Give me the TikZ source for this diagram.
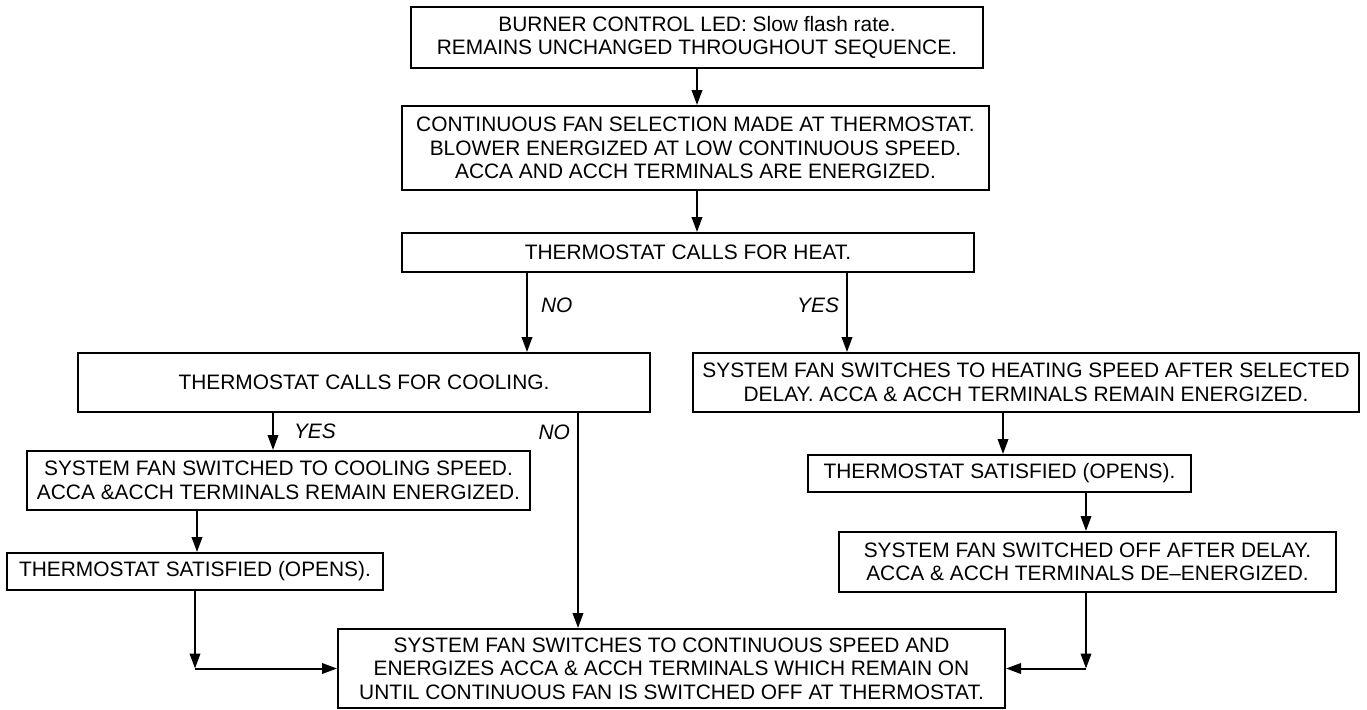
\documentclass[tikz,border=0pt]{standalone}
\usepackage{fontspec}
\setmainfont{Liberation Sans}
\usepackage{tikz}
\usetikzlibrary{arrows.meta}

\begin{document}
\begin{tikzpicture}[
  x=1pt,y=-1pt,
  box/.style={draw,line width=2pt,inner sep=0pt,align=center,font=\fontsize{20.9}{23.5}\selectfont},
  lbl/.style={inner sep=0pt,font=\fontsize{20.9}{23}\selectfont\itshape},
  arr/.style={-{Triangle[length=15pt,width=10.5pt]},line width=2pt}
]
\useasboundingbox (0,0) rectangle (1367,709);
\node[box,minimum width=572pt,minimum height=61pt] (burner) at (697,37.5) {BURNER CONTROL LED: Slow flash rate.\\REMAINS UNCHANGED THROUGHOUT SEQUENCE.};
\node[box,minimum width=587pt,minimum height=84pt] (fansel) at (695.5,148) {CONTINUOUS FAN SELECTION MADE AT THERMOSTAT.\\BLOWER ENERGIZED AT LOW CONTINUOUS SPEED.\\ACCA AND ACCH TERMINALS ARE ENERGIZED.};
\node[box,minimum width=572pt,minimum height=39pt] (heat) at (688,252.5) {THERMOSTAT CALLS FOR HEAT.};
\node[box,minimum width=572pt,minimum height=59pt] (cool) at (364,382.5) {THERMOSTAT CALLS FOR COOLING.};
\node[box,minimum width=666pt,minimum height=59pt] (heatspd) at (1026,382.5) {SYSTEM FAN SWITCHES TO HEATING SPEED AFTER SELECTED\\DELAY. ACCA \& ACCH TERMINALS REMAIN ENERGIZED.};
\node[box,minimum width=503pt,minimum height=59pt] (coolspd) at (278.5,480.5) {SYSTEM FAN SWITCHED TO COOLING SPEED.\\ACCA \&ACCH TERMINALS REMAIN ENERGIZED.};
\node[box,minimum width=376pt,minimum height=37pt] (satl) at (195,571.5) {THERMOSTAT SATISFIED (OPENS).};
\node[box,minimum width=383pt,minimum height=37pt] (satr) at (999.5,473.5) {THERMOSTAT SATISFIED (OPENS).};
\node[box,minimum width=497pt,minimum height=60pt] (fanoff) at (1087.5,562) {SYSTEM FAN SWITCHED OFF AFTER DELAY.\\ACCA \& ACCH TERMINALS DE--ENERGIZED.};
\node[box,minimum width=667pt,minimum height=79pt] (contfan) at (671.5,668.5) {SYSTEM FAN SWITCHES TO CONTINUOUS SPEED AND\\ENERGIZES ACCA \& ACCH TERMINALS WHICH REMAIN ON\\UNTIL CONTINUOUS FAN IS SWITCHED OFF AT THERMOSTAT.};
% corners of the return lines
\coordinate (lcorner) at (satl.south |- contfan.west);
\coordinate (rcorner) at ([xshift=-1.5pt]fanoff.south |- contfan.east);
\draw[arr] (burner.south) -- (burner.south |- fansel.north);
\draw[arr] (burner.south |- fansel.south) -- (burner.south |- heat.north);
\draw[arr] ([xshift=-161pt]heat.south) -- ([xshift=-161pt]heat.south |- cool.north) node[lbl,pos=0.41,right=13pt] {NO};
\draw[arr] ([xshift=159pt]heat.south) -- ([xshift=159pt]heat.south |- heatspd.north) node[lbl,pos=0.41,left=7pt] {YES};
\draw[arr] ([xshift=-91pt]cool.south) -- ([xshift=-91pt]cool.south |- coolspd.north) node[lbl,pos=0.49,right=20pt] {YES};
\draw[arr] ([xshift=214pt]cool.south) -- ([xshift=214pt]cool.south |- contfan.north) node[lbl,pos=0.09,left=7pt] {NO};
\draw[arr] ([xshift=-81.5pt]coolspd.south) -- ([xshift=-81.5pt]coolspd.south |- satl.north);
\draw[arr] ([xshift=-23pt]heatspd.south) -- ([xshift=-23pt]heatspd.south |- satr.north);
\draw[arr] ([xshift=86.5pt]satr.south) -- ([xshift=86.5pt]satr.south |- fanoff.north);
\draw[arr] (satl.south) -- (lcorner);
\draw[arr] (lcorner) -- (contfan.west);
\draw[arr] ([xshift=-1.5pt]fanoff.south) -- (rcorner);
\draw[arr] (rcorner) -- (contfan.east);
\end{tikzpicture}
\end{document}
